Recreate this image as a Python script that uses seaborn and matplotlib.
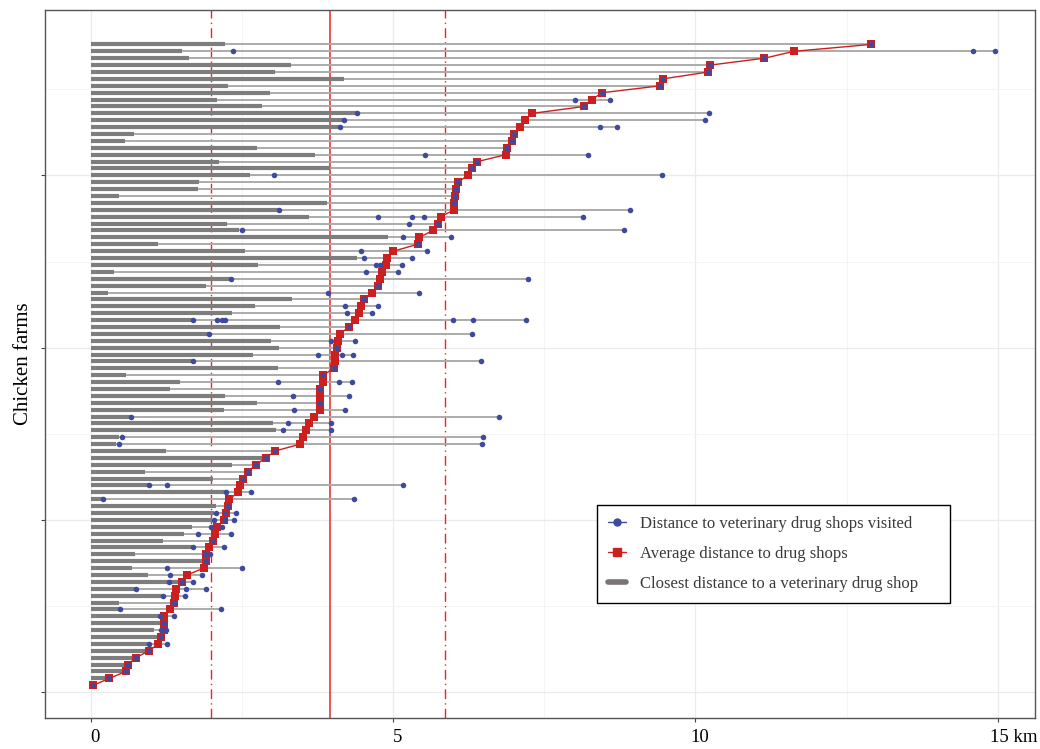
import numpy as np
import pandas as pd
import matplotlib
matplotlib.use("Agg")
import matplotlib.pyplot as plt
from matplotlib.lines import Line2D
from matplotlib.transforms import ScaledTranslation
import seaborn as sns

# Farms listed from the top of the chart (highest average) to the bottom (lowest)
closest = [2.22, 1.50, 1.61, 3.30, 3.04, 4.19, 2.26, 2.95, 2.08, 2.83,
           4.40, 4.18, 4.11, 0.71, 0.56, 2.75, 3.70, 2.12, 3.95, 2.63,
           1.79, 1.76, 0.46, 3.90, 3.10, 3.60, 2.24, 2.44, 4.91, 1.10,
           2.54, 4.39, 2.76, 0.37, 2.32, 1.90, 0.27, 3.32, 2.71, 2.33,
           1.69, 3.12, 1.95, 2.98, 3.10, 2.68, 1.68, 3.09, 0.58, 1.46,
           1.30, 2.21, 2.75, 2.19, 0.65, 3.01, 3.06, 0.45, 0.41, 1.23,
           2.84, 2.33, 0.89, 2.02, 0.96, 2.24, 0.19, 2.07, 2.03, 1.99,
           1.67, 1.53, 1.19, 1.67, 0.73, 1.86, 0.68, 0.93, 1.49, 0.74,
           1.19, 0.45, 0.47, 1.14, 1.17, 1.03, 1.14, 0.95, 0.91, 0.69,
           0.55, 0.52, 0.24, 0.02]

average = [12.90, 11.63, 11.14, 10.24, 10.21, 9.46, 9.42, 8.46, 8.28, 8.16,
           7.30, 7.17, 7.09, 7.00, 6.97, 6.88, 6.86, 6.39, 6.30, 6.23,
           6.07, 6.04, 6.02, 6.01, 6.01, 5.78, 5.74, 5.65, 5.43, 5.40,
           5.00, 4.90, 4.87, 4.81, 4.77, 4.75, 4.65, 4.51, 4.47, 4.43,
           4.36, 4.26, 4.12, 4.09, 4.07, 4.04, 4.04, 4.01, 3.84, 3.84,
           3.79, 3.78, 3.78, 3.78, 3.69, 3.61, 3.56, 3.51, 3.46, 3.04,
           2.89, 2.72, 2.59, 2.51, 2.46, 2.43, 2.28, 2.26, 2.23, 2.19,
           2.08, 2.04, 2.01, 1.94, 1.90, 1.89, 1.86, 1.58, 1.50, 1.40,
           1.38, 1.36, 1.30, 1.21, 1.21, 1.20, 1.16, 1.11, 0.95, 0.74,
           0.60, 0.57, 0.30, 0.03]

visited = [[12.90], [2.35, 14.60, 14.95], [11.14], [10.24], [10.21],
           [9.46], [9.42], [8.46], [8.01, 8.58], [8.16],
           [4.40, 10.22], [4.18, 10.15], [4.11, 8.42, 8.70], [7.00], [6.97],
           [6.88], [5.52, 8.22], [6.39], [6.30], [3.02, 9.45],
           [6.07], [6.04], [6.02], [6.01], [3.10, 8.92],
           [4.74, 5.30, 5.50, 8.13], [5.26, 5.74], [2.50, 8.81], [5.16, 5.95], [5.40],
           [4.46, 5.55], [4.51, 5.30], [4.71, 4.78, 5.14], [4.55, 5.08], [2.32, 7.22],
           [4.75], [3.91, 5.42], [4.51], [4.20, 4.74], [4.24, 4.64],
           [1.68, 2.08, 2.16, 2.21, 5.98, 6.32, 7.19], [4.26], [1.95, 6.30], [3.96, 4.36], [4.07],
           [3.75, 4.15, 4.33], [1.68, 6.45], [4.01], [3.84], [3.09, 4.10, 4.32],
           [3.79], [3.33, 4.26], [3.78], [3.35, 4.20], [0.65, 6.74],
           [3.26, 3.96], [3.17, 3.96], [0.51, 6.49], [0.46, 6.47], [3.04],
           [2.89], [2.72], [2.59], [2.51], [0.96, 1.25, 5.16],
           [2.23, 2.64], [0.19, 4.35], [2.26], [2.07, 2.21, 2.39], [2.03, 2.21, 2.36],
           [1.98, 2.17], [1.77, 2.32], [2.01], [1.68, 2.20], [1.88, 1.97],
           [1.89], [1.25, 2.49], [1.31, 1.84], [1.29, 1.50, 1.69], [0.74, 1.57, 1.90],
           [1.19, 1.55], [1.36], [0.47, 2.14], [1.14, 1.37], [1.21],
           [1.16, 1.23], [1.16], [0.96, 1.25], [0.95], [0.74],
           [0.60], [0.57], [0.30], [0.03]]

mean_distance = 3.95
sd_band = [1.98, 5.85]
x_ticks = [0, 5, 10, 15]
x_tick_labels = ["0", "5", "10", "15 km"]
legend_labels = ["Distance to veterinary drug shops visited",
                 "Average distance to drug shops",
                 "Closest distance to a veterinary drug shop"]

n = len(closest)
rank = np.arange(n, 0, -1)
df = pd.DataFrame({"farm": rank, "closest": closest, "average": average,
                   "reach": [max(max(v), a) for v, a in zip(visited, average)]})
visits = pd.DataFrame([(r, d) for r, v in zip(rank, visited) for d in v],
                      columns=["farm", "dist"])

RED = "#cc1f1f"
BLUE = "#3d4a9e"
BAR = "#7d7d7d"
LINE = "#ababab"

sns.set_theme(style="whitegrid")
plt.rcParams["font.family"] = ["Liberation Serif", "DejaVu Serif"]

fig = plt.figure(figsize=(10.4, 7.49), dpi=100)
ax = fig.add_axes([45 / 1040, 1 - 718 / 749, 990 / 1040, 708 / 749])
ax.set_facecolor("white")

ax.axvline(mean_distance, color="#e8262a", lw=1.1, zorder=1.5)
for v in sd_band:
    ax.axvline(v, color="#e8262a", lw=1.0, ls=(0, (7, 3, 1, 3)), zorder=1.5)

ax.hlines(df["farm"], 0, df["reach"], color=LINE, lw=1.4, zorder=2)
ax.hlines(df["farm"], 0, df["closest"], color=BAR, lw=3.0, zorder=3)

sns.lineplot(data=df, x="average", y="farm", orient="y", sort=True, estimator=None,
             color=RED, lw=1.0, ax=ax, zorder=4)
sns.scatterplot(data=df, x="average", y="farm", marker="s", s=30, color=RED,
                linewidth=0, ax=ax, zorder=5)
sns.scatterplot(data=visits, x="dist", y="farm", marker="o", s=16, color=BLUE,
                linewidth=0, ax=ax, zorder=6)

ax.set_xlim(-0.767, 15.62)
ax.set_ylim(-3.75, 99.0)
ax.set_xticks(x_ticks)
ax.set_xticklabels(x_tick_labels)
ax.set_xticks([2.5, 7.5, 12.5], minor=True)
ax.set_yticks([0, 25, 50, 75])
ax.set_yticklabels([])
ax.set_yticks([12.5, 37.5, 62.5, 87.5], minor=True)
ax.grid(which="major", color="#ebebeb", lw=0.9)
ax.grid(which="minor", color="#f3f3f3", lw=0.6)
ax.tick_params(axis="both", which="major", bottom=True, left=True, length=3,
               width=0.8, color="#444444")
ax.tick_params(axis="both", which="minor", bottom=False, left=False)
ax.tick_params(axis="x", labelsize=13.5, pad=5, labelcolor="black")
labels = ax.get_xticklabels()
for i, lab in enumerate(labels):
    shift = 16 if i == len(labels) - 1 else 4
    lab.set_transform(lab.get_transform() + ScaledTranslation(shift / 100, 0, fig.dpi_scale_trans))

for s in ax.spines.values():
    s.set_color("#555555")
    s.set_linewidth(1.0)

ax.set_xlabel("")
ax.set_ylabel("Chicken farms", fontsize=15, labelpad=1, color="black")

handles = [Line2D([], [], color=BLUE, marker="o", markersize=5, lw=1.0),
           Line2D([], [], color=RED, marker="s", markersize=6, lw=1.0),
           Line2D([], [], color="#7a7474", lw=4)]
leg = ax.legend(handles, legend_labels, loc="upper left",
                bbox_to_anchor=(0.5576, 0.1624, 0.3566, 0.1384), mode="expand",
                frameon=True, fancybox=False,
                edgecolor="black", framealpha=1, fontsize=12, handlelength=1.1,
                handletextpad=0.8, labelspacing=0.85, borderpad=0.65, borderaxespad=0)
leg.get_frame().set_linewidth(1.0)
for t in leg.get_texts():
    t.set_color("#3a3a3a")

fig.savefig("out.png", dpi=100)
